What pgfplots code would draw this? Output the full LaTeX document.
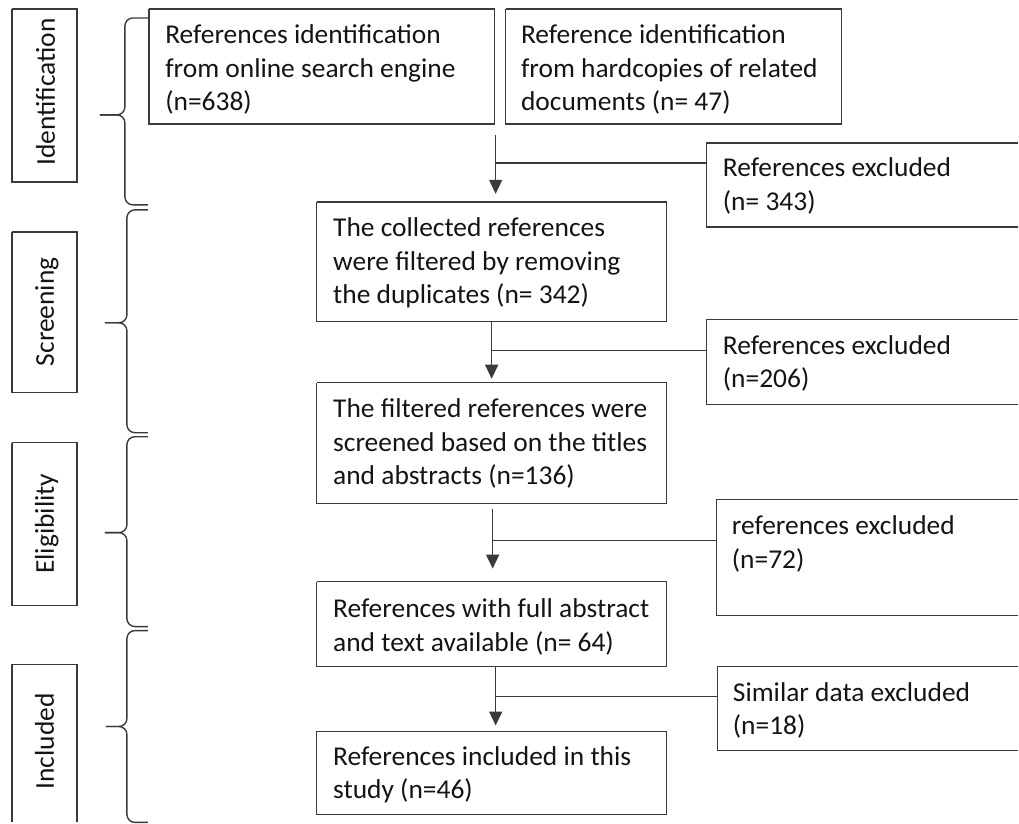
\documentclass[border=0pt]{standalone}
\usepackage{fontspec}
\setmainfont{Carlito}[FakeStretch=1.01]
\usepackage{pgfplots}
\pgfplotsset{compat=1.18}
\usetikzlibrary{arrows.meta}
\definecolor{ln}{HTML}{3A3A3A}
\definecolor{tx}{HTML}{141414}
\begin{document}
\begin{tikzpicture}[
  txt/.style={anchor=base west, inner sep=0pt, text=tx, font=\fontsize{13.6}{17}\selectfont},
  lab/.style={anchor=base, rotate=90, inner sep=0pt, text=tx, font=\fontsize{13.6}{17}\selectfont}]
\begin{axis}[width=509.5pt, height=411.5pt, scale only axis,
  xmin=0, xmax=1019, ymin=0, ymax=823, y dir=reverse,
  hide axis, clip=false,
  bx/.style={draw=ln, line width=0.7pt, mark=none, solid},
  ar/.style={bx, -{Triangle[length=7pt,width=6.5pt]}},
  br/.style={bx, rounded corners=4pt}]
% invisible frame to keep the page size
\addplot[draw=none, mark=none] coordinates {(0,0) (1019,823)};
% main boxes
\addplot[bx] coordinates {(149,9) (495,9) (495,124) (149,124) (149,9)};
\addplot[bx] coordinates {(506,9) (842,9) (842,124) (506,124) (506,9)};
\addplot[bx] coordinates {(317,202) (667,202) (667,322) (317,322) (317,202)};
\addplot[bx] coordinates {(317,383) (667,383) (667,504) (317,504) (317,383)};
\addplot[bx] coordinates {(317,582) (667,582) (667,667) (317,667) (317,582)};
\addplot[bx] coordinates {(317,732) (667,732) (667,815) (317,815) (317,732)};
% exclusion boxes (cut at right edge)
\addplot[bx] coordinates {(1019,143) (707,143) (707,227) (1019,227)};
\addplot[bx] coordinates {(1019,320) (707,320) (707,405) (1019,405)};
\addplot[bx] coordinates {(1019,500) (717,500) (717,616) (1019,616)};
\addplot[bx] coordinates {(1019,667) (718,667) (718,751) (1019,751)};
% stage label boxes
\addplot[bx] coordinates {(12,9) (77,9) (77,182) (12,182) (12,9)};
\addplot[bx] coordinates {(12,232) (77,232) (77,393) (12,393) (12,232)};
\addplot[bx] coordinates {(12,443) (77,443) (77,606) (12,606) (12,443)};
\addplot[bx] coordinates {(12,823) (12,665) (77,665) (77,823)};
% arrows
\addplot[ar] coordinates {(496,135) (496,194)};
\addplot[bx] coordinates {(496,163) (707,163)};
\addplot[ar] coordinates {(492,322) (492,379)};
\addplot[bx] coordinates {(492,351) (707,351)};
\addplot[ar] coordinates {(493,509) (493,569)};
\addplot[bx] coordinates {(493,541) (717,541)};
\addplot[ar] coordinates {(496,667) (496,726)};
\addplot[bx] coordinates {(496,697) (718,697)};
% braces
\addplot[br] coordinates {(148,18) (125,18) (125,115) (100,115)};
\addplot[br] coordinates {(100,115) (125,115) (125,205) (148,205)};
\addplot[br] coordinates {(148,210) (127,210) (127,323) (105,323)};
\addplot[br] coordinates {(105,323) (127,323) (127,433) (148,433)};
\addplot[br] coordinates {(148,437) (127,437) (127,533) (105,533)};
\addplot[br] coordinates {(105,533) (127,533) (127,627) (148,627)};
\addplot[br] coordinates {(148,631) (127,631) (127,727) (106,727)};
\addplot[br] coordinates {(106,727) (127,727) (127,823) (148,823)};
% texts
\node[txt] at (axis cs:165,44) {References identification};
\node[txt] at (axis cs:165,78) {from online search engine};
\node[txt] at (axis cs:165,111) {(n=638)};
\node[txt] at (axis cs:521,44) {Reference identification};
\node[txt] at (axis cs:521,78) {from hardcopies of related};
\node[txt] at (axis cs:521,111) {documents (n= 47)};
\node[txt] at (axis cs:723,177) {References excluded};
\node[txt] at (axis cs:723,211) {(n= 343)};
\node[txt] at (axis cs:333,237) {The collected references};
\node[txt] at (axis cs:333,271) {were filtered by removing};
\node[txt] at (axis cs:333,304) {the duplicates (n= 342)};
\node[txt] at (axis cs:723,355) {References excluded};
\node[txt] at (axis cs:723,388) {(n=206)};
\node[txt] at (axis cs:333,418) {The filtered references were};
\node[txt] at (axis cs:333,452) {screened based on the titles};
\node[txt] at (axis cs:333,485) {and abstracts (n=136)};
\node[txt] at (axis cs:732,535) {references excluded};
\node[txt] at (axis cs:732,569) {(n=72)};
\node[txt] at (axis cs:333,618) {References with full abstract};
\node[txt] at (axis cs:333,652) {and text available (n= 64)};
\node[txt] at (axis cs:733,702) {Similar data excluded};
\node[txt] at (axis cs:733,735) {(n=18)};
\node[txt] at (axis cs:333,766) {References included in this};
\node[txt] at (axis cs:333,799) {study (n=46)};
\node[lab] at (axis cs:55,92) {Identification};
\node[lab] at (axis cs:54,312) {Screening};
\node[lab] at (axis cs:54,524) {Eligibility};
\node[lab] at (axis cs:54,742) {Included};
\end{axis}
\end{tikzpicture}
\end{document}
